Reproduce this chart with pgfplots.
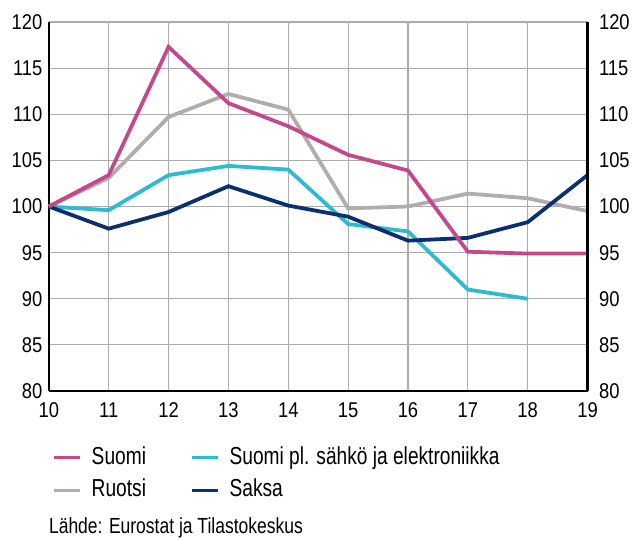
\documentclass[border=0pt]{standalone}
\usepackage{pgfplots}
\pgfplotsset{compat=1.18}
\usepackage{fontspec}
\setmainfont{Liberation Sans}[FakeStretch=0.78]
\newfontfamily\tickfont{Liberation Sans}[FakeStretch=0.86]
\newfontfamily\srcfont{Liberation Sans}[FakeStretch=0.80]
\definecolor{cSuomi}{RGB}{196,72,140}
\definecolor{cRuotsi}{RGB}{178,172,170}
\definecolor{cCyan}{RGB}{44,187,207}
\definecolor{cSaksa}{RGB}{12,48,107}
\definecolor{cGrid}{RGB}{172,172,172}
\begin{document}
\begin{tikzpicture}
\pgfplotsset{
  common/.style={
    scale only axis, width=540bp, height=370bp,
    xmin=10, xmax=19, ymin=80, ymax=120,
    xtick={10,...,19}, ytick={80,85,...,120},
    major tick length=0pt,
    axis line style={-, line width=2.6bp, black},
    ticklabel style={font=\tickfont\fontsize{21.5}{24}\selectfont},
    /pgf/number format/assume math mode=true,
  }
}
\begin{axis}[common,
  axis x line*=bottom, axis y line*=left,
  xticklabel style={yshift=-8bp},
  yticklabel style={xshift=-3bp},
  grid=major, major grid style={draw=cGrid, line width=1.1bp},
  clip=false,
  legend columns=2,
  legend cell align=left,
  legend image code/.code={\draw[#1] (0bp,0bp) -- (26bp,0bp);},
  legend style={at={(rel axis cs:0.0,-0.1432)}, anchor=north west, draw=none, fill=none,
    font=\fontsize{24.7}{27}\selectfont,
    nodes={inner sep=0pt, text height=18bp, text depth=5bp},
    /tikz/every even column/.append style={column sep=44bp},
    /tikz/every odd column/.append style={column sep=10bp},
    row sep=10bp},
]
\addplot[forget plot, cRuotsi, line width=3.8bp] coordinates {(10,100) (11,103.1) (12,109.7) (13,112.2) (14,110.5) (15,99.8) (16,100.0) (17,101.4) (18,100.9) (19,99.5)};
\addplot[forget plot, cCyan, line width=3.8bp] coordinates {(10,100) (11,99.6) (12,103.4) (13,104.4) (14,104.0) (15,98.1) (16,97.3) (17,91.0) (18,90.0)};
\addplot[forget plot, cSaksa, line width=3.8bp] coordinates {(10,100) (11,97.6) (12,99.4) (13,102.2) (14,100.1) (15,98.9) (16,96.3) (17,96.6) (18,98.3) (19,103.4)};
\addplot[forget plot, cSuomi, line width=3.8bp] coordinates {(10,100) (11,103.4) (12,117.3) (13,111.2) (14,108.7) (15,105.6) (16,103.9) (17,95.1) (18,94.9) (19,94.9)};
\addlegendimage{cSuomi, line width=3.8bp}
\addlegendentry{Suomi}
\addlegendimage{cCyan, line width=3.8bp}
\addlegendentry{Suomi pl. sähkö ja elektroniikka}
\addlegendimage{cRuotsi, line width=3.8bp}
\addlegendentry{Ruotsi}
\addlegendimage{cSaksa, line width=3.8bp}
\addlegendentry{Saksa}
\node[anchor=base west, inner sep=0pt, font=\srcfont\fontsize{22}{24}\selectfont] at (rel axis cs:0.0,-0.3865) {Lähde: Eurostat ja Tilastokeskus};
\path (rel axis cs:-0.0907,-0.3919) rectangle (rel axis cs:1.0815,1.0595);
\end{axis}
\begin{axis}[common,
  axis x line=none, axis y line*=right, yticklabel pos=right,
  yticklabel style={xshift=8bp},
]
\end{axis}
\end{tikzpicture}
\end{document}
